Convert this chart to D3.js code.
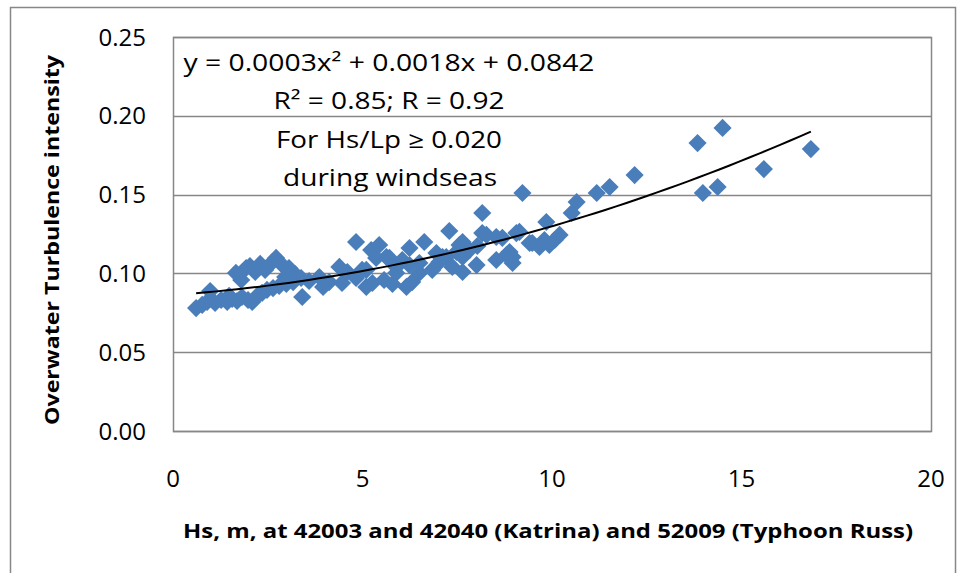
<!DOCTYPE html>
<html>
<head>
<meta charset="utf-8">
<script src="https://cdn.jsdelivr.net/npm/d3@7"></script>
<style>
  body { margin: 0; background: #fff; }
  text { font-family: "Open Sans", Lato, sans-serif; fill: #000; }
</style>
</head>
<body>
<svg width="960" height="573"></svg>
<script>
// Hs (m) of each observation
const hsValues = [
  0.61, 0.77, 0.90, 0.98, 1.11, 1.27, 1.43, 1.56, 1.69, 1.82, 1.98, 2.09, 2.22, 2.35, 2.48, 2.64, 2.80, 2.99, 3.17,
  1.66, 1.80, 1.93, 2.03, 2.17, 2.30, 2.43, 2.62, 2.72, 2.91, 3.06, 3.22, 3.38, 3.41,
  3.59, 3.86, 3.96, 4.39, 4.46, 4.83, 4.83, 4.99, 5.10, 5.26, 5.23, 5.36, 5.44, 5.57, 5.71, 5.89, 5.89, 6.05, 6.16,
  5.63, 5.10, 6.24, 6.31, 6.50, 6.50, 6.63, 6.84, 6.95, 7.11, 7.21, 7.29, 7.37, 7.48, 7.56, 7.64, 7.64, 7.64,
  8.01, 8.16, 8.16, 8.27, 8.53, 8.53, 8.80, 8.88, 8.96, 9.06, 9.14, 9.22, 9.41, 9.48, 9.67, 9.80, 9.93, 9.85,
  10.20, 10.52, 10.65, 11.18, 11.52, 12.18, 13.84, 14.50, 16.83, 15.59, 13.98, 14.37,
  8.69, 8.96, 5.79, 4.12, 4.60, 1.48, 2.96, 6.24, 7.82, 7.03, 10.07, 8.03
];
// turbulence intensity of each observation
const tiValues = [
  0.0780, 0.0800, 0.0819, 0.0888, 0.0812, 0.0831, 0.0819, 0.0838, 0.0825, 0.0850, 0.0831, 0.0819, 0.0857, 0.0876, 0.0895, 0.0907, 0.0920, 0.0933, 0.0945,
  0.1003, 0.0958, 0.1034, 0.1047, 0.1009, 0.1060, 0.1022, 0.1072, 0.1098, 0.1047, 0.1034, 0.0996, 0.0971, 0.0850,
  0.0952, 0.0977, 0.0914, 0.1041, 0.0939, 0.1199, 0.0971, 0.1022, 0.0914, 0.0939, 0.1148, 0.1098, 0.1180, 0.0958, 0.1098, 0.1003, 0.1041, 0.1085, 0.0914,
  0.1104, 0.1022, 0.1161, 0.0945, 0.1066, 0.1003, 0.1199, 0.1022, 0.1129, 0.1104, 0.1104, 0.1269, 0.1041, 0.1136, 0.1180, 0.1104, 0.1009, 0.1199,
  0.1053, 0.1383, 0.1256, 0.1244, 0.1231, 0.1085, 0.1117, 0.1136, 0.1066, 0.1256, 0.1263, 0.1510, 0.1193, 0.1193, 0.1168, 0.1212, 0.1180, 0.1326,
  0.1244, 0.1383, 0.1453, 0.1510, 0.1548, 0.1624, 0.1827, 0.1923, 0.1789, 0.1662, 0.1510, 0.1548,
  0.1225, 0.1104, 0.0933, 0.0945, 0.1009, 0.0857, 0.0977, 0.1053, 0.1148, 0.1072, 0.1212, 0.1174
];
const xTicks = [0, 5, 10, 15, 20];
const yTicks = [0, 0.05, 0.10, 0.15, 0.20, 0.25];
const noteLines = [
  "y = 0.0003x\u00B2 + 0.0018x + 0.0842",
  "R\u00B2 = 0.85; R = 0.92",
  "For Hs/Lp \u2265 0.020",
  "during windseas"
];
const xTitle = "Hs, m, at 42003 and 42040 (Katrina) and 52009 (Typhoon Russ)";
const yTitle = "Overwater Turbulence  intensity";

const points = hsValues.map((x, i) => ({ x: x, y: tiValues[i] }));

const svg = d3.select("svg");
const plot = { left: 173, right: 931, top: 37, bottom: 431 };
const grey = "#878787";

// outer chart frame
svg.append("rect")
  .attr("x", 10.5).attr("y", 7.5)
  .attr("width", 945).attr("height", 620)
  .attr("fill", "none").attr("stroke", grey).attr("stroke-width", 1.5);

const x = d3.scaleLinear().domain([0, 20]).range([plot.left, plot.right]);
const y = d3.scaleLinear().domain([0, 0.25]).range([plot.bottom, plot.top]);

// gridlines
svg.append("g").selectAll("line")
  .data(yTicks)
  .join("line")
  .attr("x1", plot.left).attr("x2", plot.right)
  .attr("y1", d => Math.round(y(d)) + 0.5).attr("y2", d => Math.round(y(d)) + 0.5)
  .attr("stroke", grey).attr("stroke-width", 1.5);

// plot area border
svg.append("rect")
  .attr("x", plot.left + 0.5).attr("y", plot.top + 0.5)
  .attr("width", plot.right - plot.left).attr("height", plot.bottom - plot.top)
  .attr("fill", "none").attr("stroke", grey).attr("stroke-width", 1.5);

// y tick labels
svg.append("g").selectAll("text")
  .data(yTicks)
  .join("text")
  .attr("x", 146).attr("y", d => y(d))
  .attr("dy", "0.36em")
  .attr("text-anchor", "end")
  .style("font-size", "24px")
  .text(d3.format(".2f"));

// x tick labels
svg.append("g").selectAll("text")
  .data(xTicks)
  .join("text")
  .attr("x", d => x(d)).attr("y", 478)
  .attr("dy", "0.36em")
  .attr("text-anchor", "middle")
  .style("font-size", "24px")
  .text(d => d);

// axis titles
svg.append("text")
  .attr("x", 548).attr("y", 531)
  .attr("dy", "0.36em")
  .attr("text-anchor", "middle")
  .attr("textLength", 730).attr("lengthAdjust", "spacingAndGlyphs")
  .style("font-size", "20px").style("font-weight", "bold")
  .text(xTitle);

svg.append("text")
  .attr("transform", "translate(52,240) rotate(-90)")
  .attr("dy", "0.36em")
  .attr("text-anchor", "middle")
  .attr("textLength", 370).attr("lengthAdjust", "spacingAndGlyphs")
  .style("font-size", "20px").style("font-weight", "bold")
  .text(yTitle);

// markers
const diamond = d3.symbol(d3.symbolSquare, 165);
svg.append("g").selectAll("path")
  .data(points)
  .join("path")
  .attr("d", diamond)
  .attr("transform", d => `translate(${x(d.x)},${y(d.y)}) rotate(45)`)
  .attr("fill", "#4a7ebb");

// 2nd order polynomial trendline, least squares on the points
function polyFit2(pts) {
  const s = [0, 0, 0, 0, 0], t = [0, 0, 0];
  pts.forEach(p => {
    let xp = 1;
    for (let k = 0; k < 5; k++) { s[k] += xp; if (k < 3) t[k] += xp * p.y; xp *= p.x; }
  });
  const A = [[s[0], s[1], s[2], t[0]], [s[1], s[2], s[3], t[1]], [s[2], s[3], s[4], t[2]]];
  for (let i = 0; i < 3; i++) {
    for (let j = i + 1; j < 3; j++) {
      const f = A[j][i] / A[i][i];
      for (let k = i; k < 4; k++) A[j][k] -= f * A[i][k];
    }
  }
  const c = [0, 0, 0];
  for (let i = 2; i >= 0; i--) {
    let v = A[i][3];
    for (let k = i + 1; k < 3; k++) v -= A[i][k] * c[k];
    c[i] = v / A[i][i];
  }
  return c;
}
const coef = polyFit2(points);
const [xMin, xMax] = d3.extent(points, d => d.x);
const trend = d3.range(0, 61).map(i => {
  const xv = xMin + (xMax - xMin) * i / 60;
  return { x: xv, y: coef[0] + coef[1] * xv + coef[2] * xv * xv };
});
svg.append("path")
  .datum(trend)
  .attr("d", d3.line().x(d => x(d.x)).y(d => y(d.y)))
  .attr("fill", "none").attr("stroke", "#000").attr("stroke-width", 2);

// annotation text
const noteY = [63, 101, 140, 178];
const noteX = [389, 389, 389, 390];
const noteW = [411, 231, 226, 214];
svg.append("g").selectAll("text")
  .data(noteLines)
  .join("text")
  .attr("x", (d, i) => noteX[i]).attr("y", (d, i) => noteY[i])
  .attr("dy", "0.36em")
  .attr("text-anchor", "middle")
  .attr("textLength", (d, i) => noteW[i]).attr("lengthAdjust", "spacingAndGlyphs")
  .style("font-size", "23px")
  .text(d => d);
</script>
</body>
</html>
